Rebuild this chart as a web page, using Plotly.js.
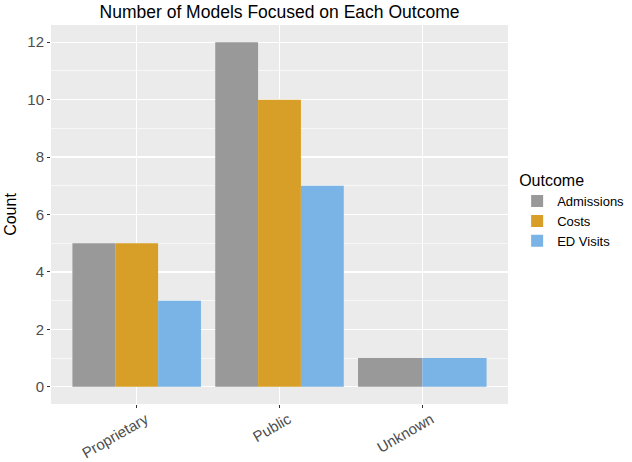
<!DOCTYPE html>
<html>
<head>
<meta charset="utf-8">
<script src="https://cdn.plot.ly/plotly-3.0.1.min.js"></script>
<style>html,body{margin:0;padding:0;background:#fff;}#chart{width:632px;height:462px;}</style>
</head>
<body>
<div id="chart"></div>
<script>
// Data
var categories = ["Proprietary", "Public", "Unknown"];
var seriesNames = ["Admissions", "Costs", "ED Visits"];
var admissions = [5, 12, 1];
var costs = [5, 10, null];
var edVisits = [3, 7, 1];
var colors = ["#999999", "#D79F27", "#7AB3E6"];

var allSeries = [admissions, costs, edVisits];
var total = 0.9;
var traces = allSeries.map(function (vals, si) {
  var widths = [], offsets = [];
  categories.forEach(function (c, ci) {
    var present = [];
    allSeries.forEach(function (s, k) { if (s[ci] !== null && s[ci] !== undefined) present.push(k); });
    var w = total / present.length;
    var idx = present.indexOf(si);
    widths.push(w);
    offsets.push(-total / 2 + Math.max(idx, 0) * w);
  });
  return {
    type: "bar",
    name: seriesNames[si],
    x: categories,
    y: vals,
    width: widths,
    offset: offsets,
    marker: { color: colors[si], line: { width: 0 } },
    hoverinfo: "x+y+name"
  };
});

var layout = {
  width: 632,
  height: 462,
  margin: { l: 51, r: 124, t: 25, b: 58, autoexpand: false },
  paper_bgcolor: "#ffffff",
  plot_bgcolor: "#EBEBEB",
  barmode: "overlay",
  font: { family: "Liberation Sans, Arial, sans-serif", color: "#4D4D4D" },
  title: {
    text: "Number of Models Focused on Each Outcome",
    font: { size: 17.5, color: "#000000" },
    x: (51 + 457 / 2) / 632, xanchor: "center",
    y: 1 - 12 / 462, yanchor: "middle"
  },
  xaxis: {
    type: "category",
    automargin: false,
    range: [-0.6, 2.6],
    showgrid: true, gridcolor: "#ffffff", gridwidth: 1.2,
    zeroline: false, showline: false,
    ticks: "outside", ticklen: 3, tickcolor: "#333333", tickwidth: 1.1,
    tickangle: -30,
    ticklabelshift: 9,
    ticklabelstandoff: -3,
    tickfont: { size: 15, color: "#4D4D4D" }
  },
  yaxis: {
    automargin: false,
    range: [-0.6, 12.6],
    dtick: 2, tick0: 0,
    showgrid: true, gridcolor: "#ffffff", gridwidth: 1.2,
    minor: { dtick: 1, tick0: 0, showgrid: true, gridcolor: "#ffffff", gridwidth: 0.6 },
    zeroline: false, showline: false,
    ticks: "outside", ticklen: 3, tickcolor: "#333333", tickwidth: 1.1,
    tickfont: { size: 15, color: "#4D4D4D" },
    title: { text: "Count", font: { size: 16, color: "#000000" }, standoff: 6 }
  },
  legend: {
    x: 1.02, xanchor: "left",
    y: 0.63, yanchor: "top",
    bgcolor: "rgba(0,0,0,0)",
    title: { text: "Outcome", font: { size: 16, color: "#000000" } },
    font: { size: 13, color: "#000000" },
    traceorder: "normal",
    itemwidth: 30,
    tracegroupgap: 0
  },
  showlegend: true
};

Plotly.newPlot("chart", traces, layout, { displayModeBar: false, staticPlot: true });
</script>
</body>
</html>
